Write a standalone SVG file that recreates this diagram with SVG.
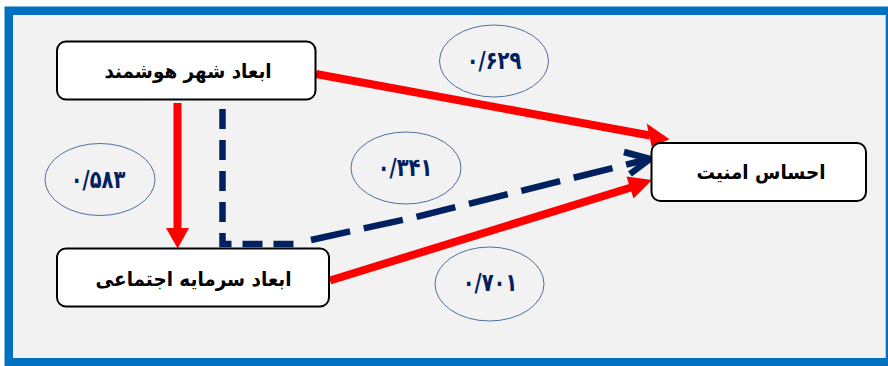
<svg xmlns="http://www.w3.org/2000/svg" width="888" height="366" viewBox="0 0 888 366">
  <defs>
    <style>
      .frame { fill: #0070C0; }
      .panel { fill: #F2F2F2; }
      .box { fill: #FFFFFF; stroke: #000000; stroke-width: 2; }
      .label { font-family: "DejaVu Sans", sans-serif; font-weight: bold; font-size: 20px; fill: #000000; text-anchor: middle; dominant-baseline: central; }
      .coef { fill: none; stroke: #4F6FA0; stroke-width: 1; }
      .coef-text { font-family: "DejaVu Sans", sans-serif; font-weight: bold; font-size: 25px; fill: #002060; text-anchor: middle; dominant-baseline: central; }
      .red { stroke: #FF0000; stroke-width: 8; fill: none; }
      .head { fill: #FF0000; }
      .navy { stroke: #002060; stroke-width: 6.5; fill: none; }
    </style>
  </defs>

  <!-- outer frame and background panel -->
  <rect class="frame" x="4.5" y="6.5" width="890" height="370"/>
  <rect class="panel" x="13" y="15" width="872.7" height="343"/>

  <!-- connectors -->
  <g id="connectors">
    <!-- smart city -> social capital -->
    <line class="red" x1="177.5" y1="103" x2="177.5" y2="229"/>
    <polygon class="head" points="166,228 189,228 177.7,248.5"/>
    <!-- smart city -> sense of security -->
    <line class="red" x1="316" y1="74" x2="650" y2="135.5"/>
    <polygon class="head" points="646.7,123.5 669.5,139.3 651.7,147"/>
    <!-- social capital -> sense of security -->
    <line class="red" x1="330" y1="280.5" x2="631" y2="187.5" stroke-width="7"/>
    <polygon class="head" points="626.5,176.5 652,180 633.5,198.5"/>
    <!-- indirect path (dashed) -->
    <path class="navy" d="M222.5,109 V244 H300" stroke-dasharray="20 11"/>
    <path class="navy" d="M311,240 L416,217 L645,160" stroke-dasharray="40 14"/>
    <polyline class="navy" points="624,152 650,159 630,174" stroke-linejoin="miter"/>
  </g>

  <!-- coefficients -->
  <g id="coef-629">
    <ellipse class="coef" cx="494" cy="61" rx="54.5" ry="36"/>
    <text class="coef-text" transform="translate(494,60) scale(0.78,1)">۰/۶۲۹</text>
  </g>
  <g id="coef-583">
    <ellipse class="coef" cx="100" cy="179.5" rx="55" ry="36"/>
    <text class="coef-text" transform="translate(98,179) scale(0.78,1)">۰/۵۸۳</text>
  </g>
  <g id="coef-341">
    <ellipse class="coef" cx="406" cy="168" rx="55" ry="36"/>
    <text class="coef-text" transform="translate(405,167) scale(0.78,1)">۰/۳۴۱</text>
  </g>
  <g id="coef-701">
    <ellipse class="coef" cx="489.5" cy="284" rx="54.5" ry="37"/>
    <text class="coef-text" transform="translate(490,282) scale(0.78,1)">۰/۷۰۱</text>
  </g>

  <!-- nodes -->
  <g id="node-smart-city">
    <rect class="box" x="57" y="41.5" width="258.5" height="58" rx="9"/>
    <text class="label" transform="translate(188,71) scale(0.92,1)">ابعاد شهر هوشمند</text>
  </g>
  <g id="node-social-capital">
    <rect class="box" x="57" y="248.5" width="272" height="58" rx="9"/>
    <text class="label" transform="translate(193.5,279) scale(0.92,1)">ابعاد سرمایه اجتماعی</text>
  </g>
  <g id="node-security">
    <rect class="box" x="651.5" y="143" width="214.5" height="58" rx="9"/>
    <text class="label" transform="translate(761,172) scale(0.92,1)">احساس امنیت</text>
  </g>
</svg>
